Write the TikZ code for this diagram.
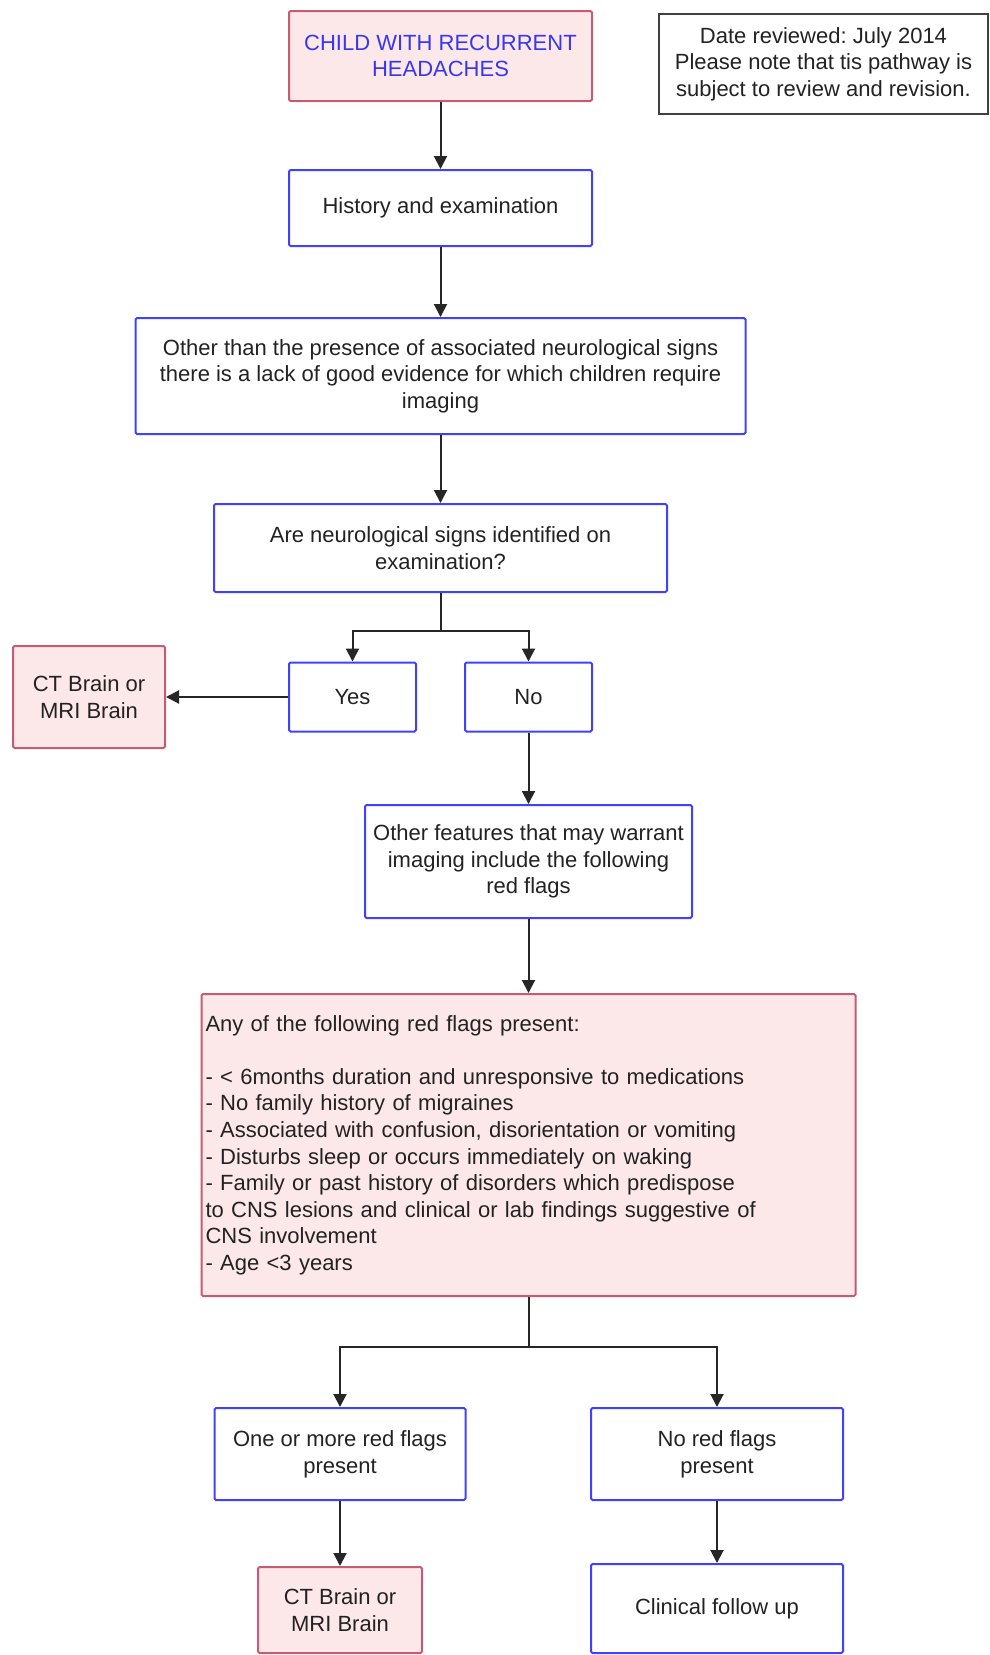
\documentclass[tikz,border=0pt]{standalone}
\usepackage{fontspec}
\setmainfont{Liberation Sans}
\usetikzlibrary{arrows.meta}
\frenchspacing

\definecolor{bord}{RGB}{64,64,255}
\definecolor{redb}{RGB}{196,92,116}
\definecolor{pinkf}{RGB}{253,232,233}
\definecolor{txt}{RGB}{34,34,34}
\definecolor{headtxt}{RGB}{55,55,240}

\tikzset{
  base/.style={draw, line width=2pt, rounded corners=1.5pt, inner sep=2pt,
    align=center, text=txt, font=\fontsize{22}{26.6}\selectfont},
  bluebox/.style={base, draw=bord},
  redbox/.style={base, draw=redb, fill=pinkf},
  notebox/.style={base, draw=black!75, line width=1.6pt, rounded corners=0pt},
  arr/.style={-{Triangle[length=13pt,width=13pt]}, line width=2pt, draw=black!85},
  link/.style={line width=2pt, draw=black!85}
}

\begin{document}
\begin{tikzpicture}[x=1pt, y=-1pt]
\useasboundingbox (0,0) rectangle (990,1655);

% top row
\node[redbox, text=headtxt, minimum width=303pt, minimum height=90pt] (top) at (440.5,56)
  {CHILD WITH RECURRENT\\HEADACHES};
\node[notebox, minimum width=329pt, minimum height=100pt] (date) at (823.5,64)
  {Date reviewed: July 2014\\Please note that tis pathway is\\subject to review and revision.};

% main column
\node[bluebox, minimum width=303pt, minimum height=76pt] (hist) at (440.5,208)
  {History and examination};
\node[bluebox, minimum width=610pt, minimum height=116pt] (other) at (440.5,376)
  {Other than the presence of associated neurological signs\\there is a lack of good evidence for which children require\\imaging};
\node[bluebox, minimum width=453pt, minimum height=88pt] (are) at (440.5,548)
  {Are neurological signs identified on\\examination?};

% yes / no split
\node[bluebox, minimum width=127pt, minimum height=69pt] (yes) at (352.5,697) {Yes};
\node[bluebox, minimum width=127pt, minimum height=69pt] (no) at (528.5,697) {No};
\node[redbox, minimum width=152pt, minimum height=102pt] (ct1) at (89,697)
  {CT Brain or\\MRI Brain};

\node[bluebox, minimum width=327pt, minimum height=113pt] (feat) at (528.5,861.5)
  {Other features that may warrant\\imaging include the following\\red flags};

% red flag checklist
\node[redbox, align=left, minimum width=654pt, minimum height=302pt, text width=646pt,
  inner sep=4pt] (flags) at (528.5,1145)
  {Any of the following red flags present:\\
   ~\\
   - < 6months duration and unresponsive to medications\\
   - No family history of migraines\\
   - Associated with confusion, disorientation or vomiting\\
   - Disturbs sleep or occurs immediately on waking\\
   - Family or past history of disorders which predispose\\
   to CNS lesions and clinical or lab findings suggestive of\\
   CNS involvement\\
   - Age <3 years};

% outcomes
\node[bluebox, minimum width=251pt, minimum height=92pt] (one) at (340,1454)
  {One or more red flags\\present};
\node[bluebox, minimum width=252pt, minimum height=92pt] (nored) at (717,1454)
  {No red flags\\present};
\node[redbox, minimum width=164pt, minimum height=86pt] (ct2) at (340,1610)
  {CT Brain or\\MRI Brain};
\node[bluebox, minimum width=252pt, minimum height=89pt] (clin) at (717,1608.5)
  {Clinical follow up};

% junction points
\coordinate (j1) at (440.5,631);
\coordinate (j2) at (528.5,1347);

% connectors
\draw[arr] (top.south) -- (hist.north);
\draw[arr] (hist.south) -- (other.north);
\draw[arr] (other.south) -- (are.north);
\draw[link] (are.south) -- (j1);
\draw[arr] (j1) -| (yes.north);
\draw[arr] (j1) -| (no.north);
\draw[arr] (yes.west) -- (ct1.east);
\draw[arr] (no.south) -- (feat.north);
\draw[arr] (feat.south) -- (flags.north);
\draw[link] (flags.south) -- (j2);
\draw[arr] (j2) -| (one.north);
\draw[arr] (j2) -| (nored.north);
\draw[arr] (one.south) -- (ct2.north);
\draw[arr] (nored.south) -- (clin.north);
\end{tikzpicture}
\end{document}
